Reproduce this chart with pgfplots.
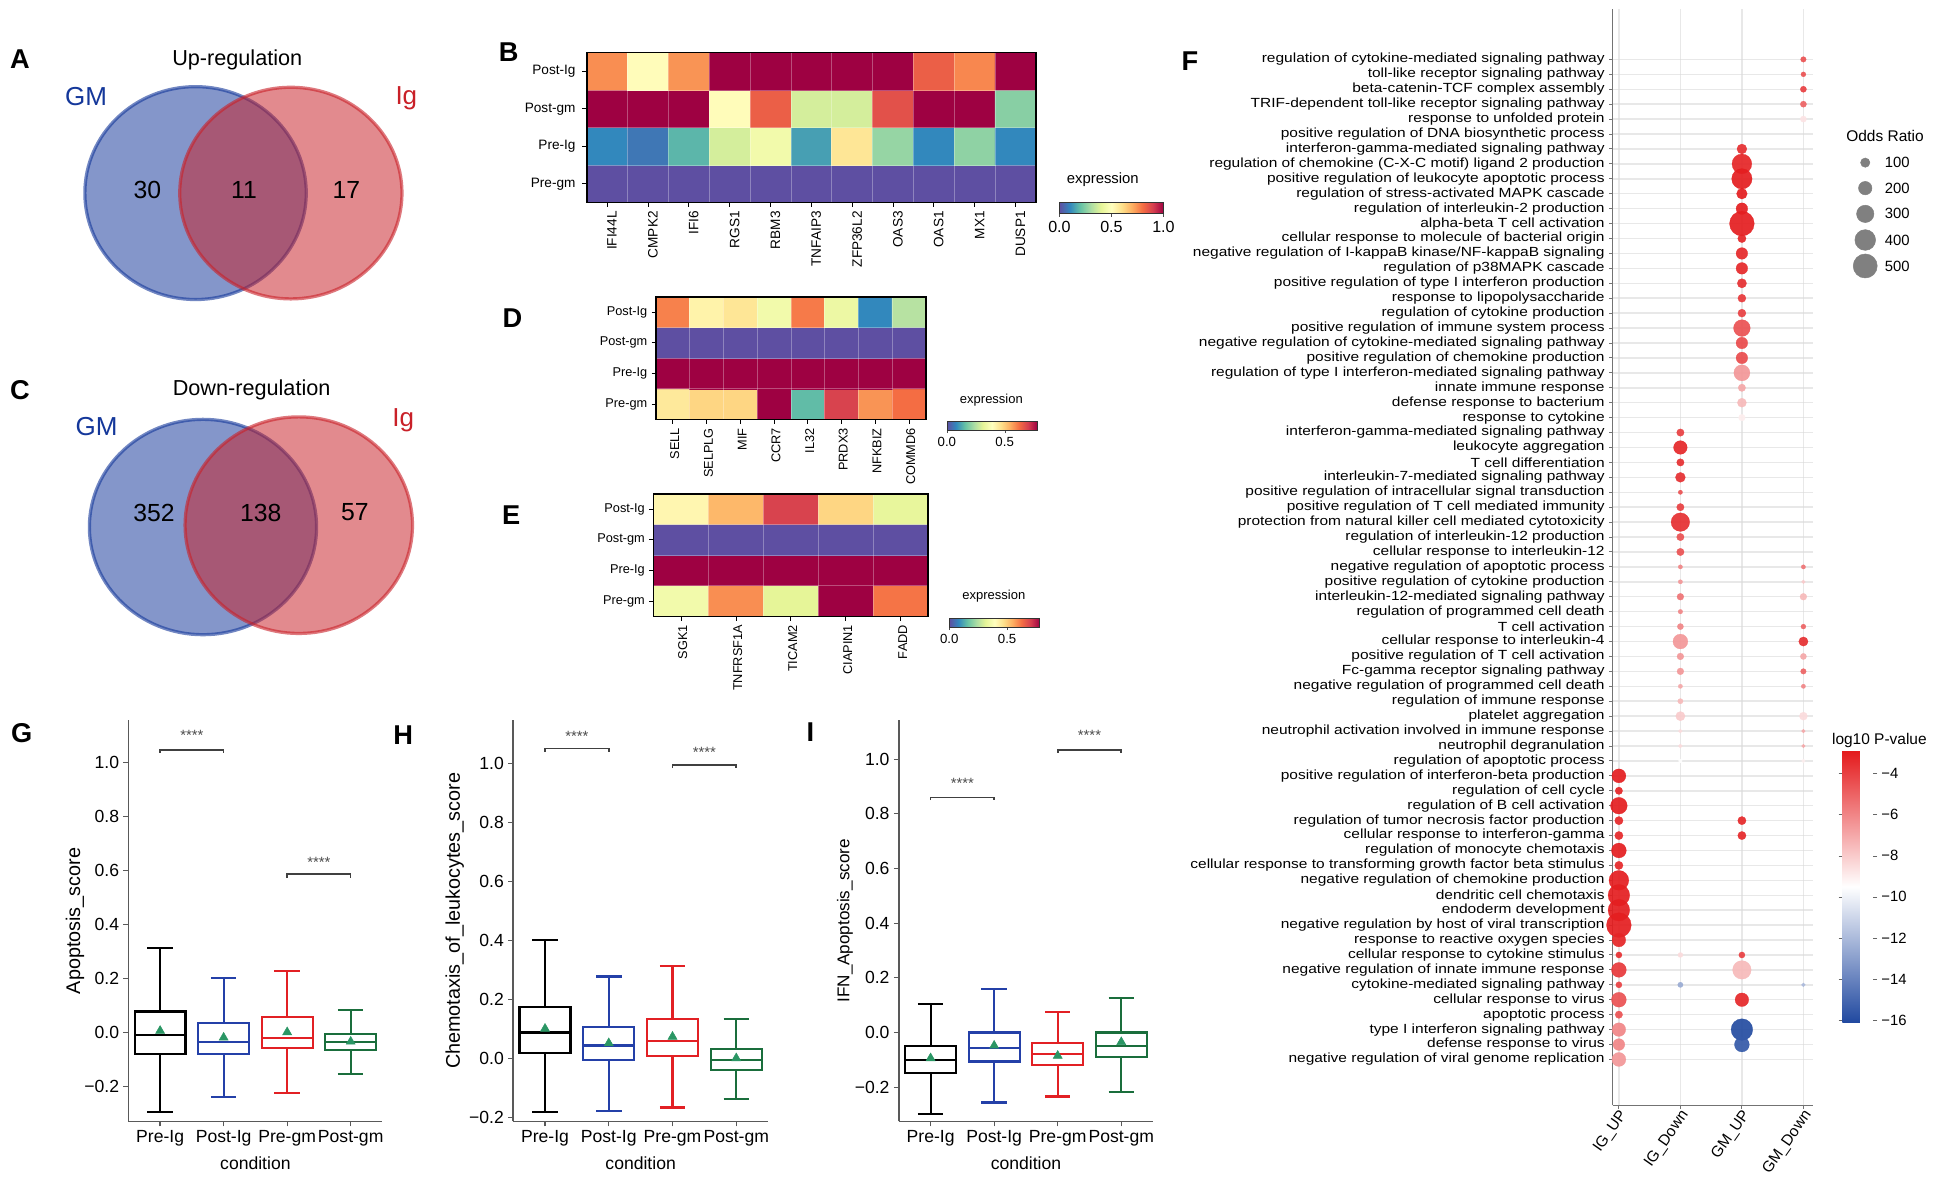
\documentclass[border=0pt]{standalone}
\usepackage{fontspec}
\setmainfont{Liberation Sans}
\newfontfamily\stretchfont[FakeStretch=1.17]{Liberation Sans}
\usepackage{pgfplots}
\pgfplotsset{compat=1.18}
\usepgfplotslibrary{statistics}
\usetikzlibrary{calc}
\newcommand{\fsz}[1]{\fontsize{#1}{#1}\selectfont}
\definecolor{gmblue}{RGB}{20,55,154}
\definecolor{igred}{RGB}{201,32,40}
\definecolor{bxblue}{RGB}{36,64,168}
\definecolor{bxred}{RGB}{226,32,36}
\definecolor{bxgreen}{RGB}{26,110,60}
\definecolor{meangreen}{RGB}{42,150,100}
\pgfplotsset{colormap={spectralr}{rgb255=(94,79,162) rgb255=(50,136,189) rgb255=(102,194,165) rgb255=(171,221,164) rgb255=(230,245,152) rgb255=(255,255,191) rgb255=(254,224,139) rgb255=(253,174,97) rgb255=(244,109,67) rgb255=(213,62,79) rgb255=(158,1,66)}}
\pgfplotsset{colormap={rwb}{rgb255=(33,73,160) rgb255=(255,255,255) rgb255=(228,26,28)}}
\pgfplotsset{
 hmax/.style={anchor=north west, scale only axis, ymin=-0.5, ymax=3.5, ytick={0,1,2,3},
  yticklabels={Pre-gm,Pre-Ig,Post-gm,Post-Ig}, colormap name=spectralr, point meta min=0, point meta max=1,
  tick align=outside, tick pos=left, major tick length=3.5pt, tick style={black,line width=0.7pt},
  axis line style={black,line width=1.4pt}, axis on top, xminorgrids, yminorgrids, minor tick length=0pt,
  minor ytick={0.5,1.5,2.5}, minor grid style={white,opacity=0.3,line width=0.6pt},
  xticklabel style={rotate=90,anchor=east}},
 boxax/.style={anchor=north west, scale only axis, height=324pt, xmin=-0.5, xmax=3.5,
  axis x line*=bottom, axis y line*=left, axis line style={-,black!65,line width=1.1pt},
  xtick={0,1,2,3}, xticklabels={Pre-Ig,Post-Ig,Pre-gm,Post-gm},
  ytick={-0.2,0,0.2,0.4,0.6,0.8,1}, yticklabels={−0.2,0.0,0.2,0.4,0.6,0.8,1.0},
  tick style={black!65,line width=1pt}, major tick length=4pt, tick align=outside,
  ticklabel style={font=\fsz{14.2}}, xlabel={condition},
  xlabel style={font=\fsz{14.2}, at={(axis description cs:0.5,-0.104)}, anchor=center}, clip=false,
  boxplot/draw direction=y}
}
\newcommand{\bx}[7]{\addplot[#7, solid, line width=1.7pt, boxplot/draw direction=y, boxplot prepared={draw position=#1, lower whisker=#2, lower quartile=#3, median=#4, upper quartile=#5, upper whisker=#6, box extend=0.8, whisker extend=0.4}] coordinates {};}
\begin{document}
\begin{tikzpicture}
\useasboundingbox (0,0) rectangle (1565pt,-957pt);
\fill[white] (0,0) rectangle (1565pt,-957pt);

% ---------- canvas (Venn + legend symbols) ----------
\begin{axis}[at={(0pt,0pt)},anchor=north west,scale only axis,width=1565pt,height=957pt,
 xmin=0,xmax=1565,ymin=0,ymax=957,y dir=reverse,hide axis,clip=false]
\addplot[only marks,mark=*,mark size=86pt,mark options={xscale=1.04,fill=gmblue,fill opacity=0.52,draw=gmblue,draw opacity=0.6,line width=2.6pt}] coordinates {(158,156)};
\addplot[only marks,mark=*,mark size=85.5pt,mark options={xscale=1.05,fill=igred,fill opacity=0.52,draw=igred,draw opacity=0.6,line width=2.6pt}] coordinates {(235,156)};
\addplot[only marks,mark=*,mark size=87pt,mark options={xscale=1.055,fill=gmblue,fill opacity=0.52,draw=gmblue,draw opacity=0.6,line width=2.6pt}] coordinates {(164,425.8)};
\addplot[only marks,mark=*,mark size=87.5pt,mark options={xscale=1.05,fill=igred,fill opacity=0.52,draw=igred,draw opacity=0.6,line width=2.6pt}] coordinates {(241.4,424.3)};
\addplot[only marks,mark=*,black!50,mark size=3.75pt] coordinates {(1507,131.4)};
\addplot[only marks,mark=*,black!50,mark size=5.4pt] coordinates {(1507,152)};
\addplot[only marks,mark=*,black!50,mark size=7pt] coordinates {(1507,172.8)};
\addplot[only marks,mark=*,black!50,mark size=8.35pt] coordinates {(1507,193.9)};
\addplot[only marks,mark=*,black!50,mark size=9.7pt] coordinates {(1507,214.9)};
\end{axis}

% ---------- B heatmap ----------
\begin{axis}[hmax, at={(474pt,-42.5pt)}, width=363pt, height=121.2pt, xmin=-0.5, xmax=10.5,
 xtick={0,...,10}, xticklabels={IFI44L,CMPK2,IFI6,RGS1,RBM3,TNFAIP3,ZFP36L2,OAS3,OAS1,MX1,DUSP1},
 minor xtick={0.5,1.5,...,9.5},
 xticklabel style={font=\fsz{11}, yshift=-4pt}, yticklabel style={font=\fsz{11}, xshift=-2pt},
 colorbar horizontal, colorbar style={at={($(parent axis.south east)+(19pt,0pt)$)}, anchor=south west,
  width=84pt, height=8.5pt, scale only axis, xtick={0,0.5,1}, xticklabels={0.0,0.5,1.0},
  xticklabel style={font=\fsz{13}}, xticklabel pos=lower, xtick pos=left, xtick align=outside,
  major tick length=3pt, tick style={black!70}, axis line style={black!80,line width=0.6pt}}]
\addplot[matrix plot*, mesh/cols=11, point meta=explicit] table[meta=c] {
x y c
0 0 0
1 0 0
2 0 0
3 0 0
4 0 0
5 0 0
6 0 0
7 0 0
8 0 0
9 0 0
10 0 0
0 1 0.10
1 1 0.07
2 1 0.18
3 1 0.37
4 1 0.45
5 1 0.14
6 1 0.58
7 1 0.27
8 1 0.10
9 1 0.26
10 1 0.10
0 2 1
1 2 1
2 2 1
3 2 0.51
4 2 0.83
5 2 0.37
6 2 0.37
7 2 0.86
8 2 1
9 2 1
10 2 0.25
0 3 0.75
1 3 0.51
2 3 0.74
3 3 1
4 3 1
5 3 1
6 3 1
7 3 1
8 3 0.83
9 3 0.76
10 3 1
};
\end{axis}

% ---------- D heatmap ----------
\begin{axis}[hmax, at={(530pt,-239.7pt)}, width=218pt, height=99.3pt, xmin=-0.5, xmax=7.5,
 xtick={0,...,7}, xticklabels={SELL,SELPLG,MIF,CCR7,IL32,PRDX3,NFKBIZ,COMMD6},
 minor xtick={0.5,1.5,...,6.5},
 xticklabel style={font=\fsz{10.3}, yshift=-1.5pt}, yticklabel style={font=\fsz{10.3}},
 colorbar horizontal, colorbar style={at={($(parent axis.south east)+(17pt,0pt)$)}, anchor=south west,
  width=73pt, height=7pt, scale only axis, xtick={0,0.64}, xticklabels={0.0,0.5},
  xticklabel style={font=\fsz{10.7}}, xticklabel pos=lower, xtick pos=left, xtick align=outside,
  major tick length=2.5pt, tick style={black!70}, axis line style={black!80,line width=0.5pt}}]
\addplot[matrix plot*, mesh/cols=8, point meta=explicit] table[meta=c] {
x y c
0 0 0.57
1 0 0.62
2 0 0.62
3 0 1
4 0 0.19
5 0 0.89
6 0 0.74
7 0 0.80
0 1 1
1 1 1
2 1 1
3 1 1
4 1 1
5 1 1
6 1 1
7 1 1
0 2 0
1 2 0
2 2 0
3 2 0
4 2 0
5 2 0
6 2 0
7 2 0
0 3 0.77
1 3 0.54
2 3 0.58
3 3 0.45
4 3 0.78
5 3 0.43
6 3 0.10
7 3 0.32
};
\end{axis}

% ---------- E heatmap ----------
\begin{axis}[hmax, at={(528pt,-399pt)}, width=222pt, height=99pt, xmin=-0.5, xmax=4.5,
 xtick={0,...,4}, xticklabels={SGK1,TNFRSF1A,TICAM2,CIAPIN1,FADD},
 minor xtick={0.5,1.5,2.5,3.5},
 xticklabel style={font=\fsz{10.3}, yshift=-1.5pt}, yticklabel style={font=\fsz{10.3}},
 colorbar horizontal, colorbar style={at={($(parent axis.south east)+(17pt,0pt)$)}, anchor=south west,
  width=73pt, height=7pt, scale only axis, xtick={0,0.64}, xticklabels={0.0,0.5},
  xticklabel style={font=\fsz{10.7}}, xticklabel pos=lower, xtick pos=left, xtick align=outside,
  major tick length=2.5pt, tick style={black!70}, axis line style={black!80,line width=0.5pt}}]
\addplot[matrix plot*, mesh/cols=5, point meta=explicit] table[meta=c] {
x y c
0 0 0.45
1 0 0.75
2 0 0.40
3 0 1
4 0 0.79
0 1 1
1 1 1
2 1 1
3 1 1
4 1 1
0 2 0
1 2 0
2 2 0
3 2 0
4 2 0
0 3 0.53
1 3 0.68
2 3 0.89
3 3 0.62
4 3 0.41
};
\end{axis}

% ---------- F dot plot ----------
\begin{axis}[at={(1303pt,-7pt)}, anchor=north west, scale only axis, width=162pt, height=886pt,
 xmin=0.9, xmax=4.16, ymin=-2.07, ymax=71.4,
 axis x line*=bottom, axis y line*=left, axis line style={-,black!55,line width=0.9pt},
 xtick={1,2,3,4}, xticklabels={IG\_UP,IG\_Down,GM\_UP,GM\_Down},
 ytick={1,...,68},
 yticklabels={negative regulation of viral genome replication, defense response to virus, type I interferon signaling pathway, apoptotic process, cellular response to virus, cytokine-mediated signaling pathway, negative regulation of innate immune response, cellular response to cytokine stimulus, response to reactive oxygen species, negative regulation by host of viral transcription, endoderm development, dendritic cell chemotaxis, negative regulation of chemokine production, cellular response to transforming growth factor beta stimulus, regulation of monocyte chemotaxis, cellular response to interferon-gamma, regulation of tumor necrosis factor production, regulation of B cell activation, regulation of cell cycle, positive regulation of interferon-beta production, regulation of apoptotic process, neutrophil degranulation, neutrophil activation involved in immune response, platelet aggregation, regulation of immune response, negative regulation of programmed cell death, Fc-gamma receptor signaling pathway, positive regulation of T cell activation, cellular response to interleukin-4, T cell activation, regulation of programmed cell death, interleukin-12-mediated signaling pathway, positive regulation of cytokine production, negative regulation of apoptotic process, cellular response to interleukin-12, regulation of interleukin-12 production, protection from natural killer cell mediated cytotoxicity, positive regulation of T cell mediated immunity, positive regulation of intracellular signal transduction, interleukin-7-mediated signaling pathway, T cell differentiation, leukocyte aggregation, interferon-gamma-mediated signaling pathway\ , response to cytokine, defense response to bacterium, innate immune response, regulation of type I interferon-mediated signaling pathway, positive regulation of chemokine production, negative regulation of cytokine-mediated signaling pathway, positive regulation of immune system process, regulation of cytokine production, response to lipopolysaccharide, positive regulation of type I interferon production, regulation of p38MAPK cascade, negative regulation of I-kappaB kinase/NF-kappaB signaling, cellular response to molecule of bacterial origin, alpha-beta T cell activation, regulation of interleukin-2 production, regulation of stress-activated MAPK cascade, positive regulation of leukocyte apoptotic process, regulation of chemokine (C-X-C motif) ligand 2 production, interferon-gamma-mediated signaling pathway, positive regulation of DNA biosynthetic process, response to unfolded protein, TRIF-dependent toll-like receptor signaling pathway, beta-catenin-TCF complex assembly, toll-like receptor signaling pathway, regulation of cytokine-mediated signaling pathway},
 tick style={black!55,line width=0.8pt}, major tick length=3pt, tick align=outside,
 grid=major, grid style={black!15,opacity=0.6,line width=1.2pt}, axis on top,
 colormap name=rwb, point meta min=-16.1, point meta max=-2.9,
 yticklabel style={font=\stretchfont\fsz{10.7}, inner ysep=0pt},
 xticklabel style={xshift=6pt, rotate=55, anchor=east, font=\fsz{12.5}},
 colorbar, colorbar style={at={($(parent axis.north east)+(15pt,-599.5pt)$)}, anchor=north west,
  width=25pt, height=219.5pt, scale only axis, ytick={-16,-14,-12,-10,-8,-6,-4},
  yticklabels={−16,−14,−12,−10,−8,−6,−4}, yticklabel style={font=\fsz{12}},
  major tick length=3pt, tick style={black!60}, ytick align=outside, axis line style={draw=none}}]
\addplot[scatter, only marks, mark=*, point meta=explicit,
 scatter/use mapped color={draw=mapped color, fill=mapped color},
 visualization depends on={\thisrow{d}/2 \as \dsz},
 scatter/@pre marker code/.append style={/tikz/mark size=\dsz pt},
 mark options={fill opacity=0.92, draw opacity=0.92, line width=0.2pt}] table[x=x, y=y, meta=p] {
x y d p
4 68 4.5 -4.5
4 67 4 -4.5
4 66 5 -4
4 65 5 -5
4 64 5 -8.7
4 34 3.5 -5.5
4 33 3 -8
4 32 5.5 -7.5
4 30 4 -5
4 29 7.5 -3.5
4 28 5 -7
4 27 4.5 -5
4 26 3.5 -6
4 24 6.5 -8.5
4 23 3 -7
4 22 3 -7
4 21 3 -9
4 6 3.2 -12
3 62 8 -3.5
3 61 16 -3.2
3 60 16.5 -3
3 59 8.6 -3
3 58 9.4 -3
3 57 20 -3
3 56 6.7 -3.2
3 55 9.4 -3.3
3 54 9.4 -3.3
3 53 7.5 -3.5
3 52 6.5 -3.8
3 51 6.5 -4
3 50 13.5 -4.5
3 49 9.4 -4.3
3 48 9.4 -4.3
3 47 13 -6.5
3 46 6 -7
3 45 7.3 -7.5
3 44 5.4 -9
3 17 6.7 -3.3
3 16 6.7 -3.3
3 8 5 -4
3 7 15 -7.5
3 5 11 -3.3
3 3 17.5 -16
3 2 12 -15.5
2 43 6 -4
2 42 11 -3.3
2 41 6 -3.5
2 40 8 -3.5
2 39 3.5 -4.5
2 38 6 -4
2 37 15 -3.5
2 36 6 -4.5
2 35 6 -4.5
2 34 3.5 -6
2 33 3.5 -6.5
2 32 5.5 -5.5
2 31 3.7 -6
2 30 5 -6
2 29 12 -6.5
2 28 5.5 -6.5
2 27 5.5 -6.5
2 26 3.5 -7
2 25 4.3 -7.5
2 24 7.5 -8
2 23 3.2 -8.5
2 22 3.2 -8.5
2 21 3.2 -9.5
2 8 4 -8.5
2 6 4.3 -12.5
1 20 11.3 -3
1 19 6 -3.2
1 18 13.5 -3
1 17 6.7 -3.3
1 16 6.7 -3.3
1 15 12 -3
1 14 6.7 -3.3
1 13 16 -3
1 12 17.5 -3
1 11 17.5 -3
1 10 20 -3
1 9 11 -3.2
1 8 5 -3.5
1 7 12 -3.8
1 6 5 -4
1 5 12 -4.5
1 4 6 -4.5
1 3 11 -6
1 2 9.5 -6
1 1 11.3 -6.5
};
\end{axis}

% ---------- G ----------
\begin{axis}[boxax, at={(103.7pt,-582pt)}, width=205.3pt, ymin=-0.329, ymax=1.155,
 ylabel={Apoptosis\_score}, ylabel style={font=\fsz{16}, at={(axis description cs:-0.21,0.5)}, anchor=center}]
\bx{0}{-0.295}{-0.080}{-0.009}{0.0775}{0.314}{black}
\bx{1}{-0.240}{-0.079}{-0.036}{0.034}{0.203}{bxblue}
\bx{2}{-0.225}{-0.057}{-0.021}{0.0565}{0.229}{bxred}
\bx{3}{-0.153}{-0.064}{-0.036}{-0.005}{0.084}{bxgreen}
\addplot[only marks, mark=triangle*, mark size=4.2pt, meangreen] coordinates {(0,0.006) (1,-0.019) (2,0.001) (3,-0.034)};
\addplot[black!75, line width=1.3pt] coordinates {(0,1.036) (0,1.046) (1,1.046) (1,1.036)};
\addplot[black!75, line width=1.3pt] coordinates {(2,0.571) (2,0.587) (3,0.587) (3,0.571)};
\node[font=\fsz{12}, text=black!70] at (axis cs:0.5,1.10) {****};
\node[font=\fsz{12}, text=black!70] at (axis cs:2.5,0.63) {****};
\end{axis}

% ---------- H ----------
\begin{axis}[boxax, at={(414.6pt,-582pt)}, width=206pt, ymin=-0.214, ymax=1.145,
 ylabel={Chemotaxis\_of\_leukocytes\_score}, ylabel style={font=\fsz{16}, at={(axis description cs:-0.229,0.5)}, anchor=center}]
\bx{0}{-0.183}{0.017}{0.087}{0.173}{0.401}{black}
\bx{1}{-0.179}{-0.006}{0.043}{0.107}{0.277}{bxblue}
\bx{2}{-0.167}{0.007}{0.058}{0.132}{0.314}{bxred}
\bx{3}{-0.139}{-0.040}{-0.006}{0.032}{0.132}{bxgreen}
\addplot[only marks, mark=triangle*, mark size=4.2pt, meangreen] coordinates {(0,0.10) (1,0.051) (2,0.073) (3,0.0)};
\addplot[black!75, line width=1.3pt] coordinates {(0,1.037) (0,1.049) (1,1.049) (1,1.037)};
\addplot[black!75, line width=1.3pt] coordinates {(2,0.983) (2,0.994) (3,0.994) (3,0.983)};
\node[font=\fsz{12}, text=black!70] at (axis cs:0.5,1.09) {****};
\node[font=\fsz{12}, text=black!70] at (axis cs:2.5,1.035) {****};
\end{axis}

% ---------- I ----------
\begin{axis}[boxax, at={(726.2pt,-582pt)}, width=205.4pt, ymin=-0.325, ymax=1.142,
 ylabel={IFN\_Apoptosis\_score}, ylabel style={font=\fsz{13.8}, at={(axis description cs:-0.212,0.5)}, anchor=center}]
\bx{0}{-0.299}{-0.149}{-0.100}{-0.048}{0.104}{black}
\bx{1}{-0.256}{-0.106}{-0.055}{0.0}{0.159}{bxblue}
\bx{2}{-0.234}{-0.118}{-0.078}{-0.039}{0.076}{bxred}
\bx{3}{-0.218}{-0.090}{-0.048}{0.0}{0.126}{bxgreen}
\addplot[only marks, mark=triangle*, mark size=4.2pt, meangreen] coordinates {(0,-0.094) (1,-0.048) (2,-0.085) (3,-0.035)};
\addplot[black!75, line width=1.3pt] coordinates {(0,0.85) (0,0.86) (1,0.86) (1,0.85)};
\addplot[black!75, line width=1.3pt] coordinates {(2,1.024) (2,1.034) (3,1.034) (3,1.024)};
\node[font=\fsz{12}, text=black!70] at (axis cs:0.5,0.91) {****};
\node[font=\fsz{12}, text=black!70] at (axis cs:2.5,1.087) {****};
\end{axis}

% ---------- texts ----------
\begin{scope}[x=1pt,y=-1pt]
\foreach \l/\px/\py in {A/16.2/47.8, B/411/42, C/16.2/315, D/414/257, E/413/416, F/961.3/49.8, G/17.5/592, H/325.7/593.7, I/654.8/591.8}
 \node[font=\fsz{22}\bfseries] at (\px,\py) {\l};
\node[font=\fsz{17.5}] at (191.7,48.5) {Up-regulation};
\node[font=\fsz{17.5}] at (203.3,315) {Down-regulation};
\node[font=\fsz{21}, text=gmblue] at (69.5,78) {GM};
\node[font=\fsz{21}, text=igred] at (328.3,79.4) {Ig};
\node[font=\fsz{21}, text=gmblue] at (78,344.6) {GM};
\node[font=\fsz{21}, text=igred] at (325.8,339.3) {Ig};
\node[font=\fsz{20}] at (119,153.5) {30};
\node[font=\fsz{20}] at (197.2,153.5) {11};
\node[font=\fsz{20}] at (279.8,153.5) {17};
\node[font=\fsz{20}] at (124.4,414.1) {352};
\node[font=\fsz{20}] at (210.6,414.1) {138};
\node[font=\fsz{20}] at (286.8,414.1) {57};
\node[font=\fsz{12}] at (891,145) {expression};
\node[font=\fsz{10.5}] at (801,323) {expression};
\node[font=\fsz{10.5}] at (803,482) {expression};
\node[font=\fsz{12.5}] at (1523,110) {Odds Ratio};
\foreach \v/\py in {100/131.4, 200/152, 300/172.8, 400/193.9, 500/214.9}
 \node[font=\fsz{12}, anchor=west, inner sep=0pt] at (1522.6,\py) {\v};
\node[font=\fsz{12.5}, anchor=west, inner sep=0pt] at (1480,598) {log10 P-value};
\end{scope}
\end{tikzpicture}
\end{document}
